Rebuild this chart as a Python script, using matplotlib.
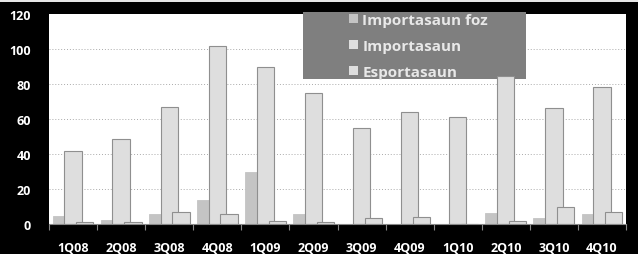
import matplotlib
matplotlib.use("Agg")
import matplotlib.pyplot as plt
import numpy as np
from matplotlib.patches import Rectangle

categories = ["1Q08", "2Q08", "3Q08", "4Q08", "1Q09", "2Q09", "3Q09", "4Q09", "1Q10", "2Q10", "3Q10", "4Q10"]
importasaun_foz = [4.7, 2.5, 6.0, 13.5, 30.0, 5.7, 0, 0, 0, 6.3, 3.4, 5.7]
importasaun = [41.9, 48.6, 67.0, 102.0, 90.0, 74.7, 54.9, 64.0, 61.0, 84.4, 66.3, 78.5]
esportasaun = [1.0, 1.0, 7.0, 5.7, 2.0, 1.0, 3.4, 4.2, 0, 1.5, 9.5, 6.7]
series_names = ["Importasaun foz", "Importasaun", "Esportasaun"]
yticks = [0, 20, 40, 60, 80, 100, 120]

plt.rcParams['font.family'] = ['Open Sans', 'DejaVu Sans']

fig = plt.figure(figsize=(6.38, 2.55), dpi=100, facecolor='black')
ax = fig.add_axes([49/638, 1-225/255, 577/638, 210/255])
ax.set_facecolor('white')

x = np.arange(len(categories))
w = 0.36
off = 0.245
c_foz = '#c4c4c4'
c_imp = '#dedede'
edge = '#8f8f8f'
b1 = ax.bar(x - off, importasaun_foz, w, color=c_foz, edgecolor=c_foz, linewidth=0.6, zorder=2, label=series_names[0])
b2 = ax.bar(x, importasaun, w, color=c_imp, edgecolor=edge, linewidth=0.8, zorder=3, label=series_names[1])
b3 = ax.bar(x + off, esportasaun, w, color=c_imp, edgecolor=edge, linewidth=0.8, zorder=4, label=series_names[2])

ax.set_xlim(-0.5, len(categories) - 0.5)
ax.set_ylim(0, 120)
ax.set_yticks(yticks)
ax.set_yticklabels([str(t) for t in yticks], color='white', fontsize=9, fontweight='bold')
ax.tick_params(axis='y', length=0, pad=13)
ax.set_xticks(x)
ax.set_xticklabels(categories, color='white', fontsize=9, fontweight='bold')
ax.tick_params(axis='x', which='major', length=0, pad=12)
ax.set_xticks(np.arange(-0.5, len(categories) + 0.5, 1), minor=True)
ax.tick_params(axis='x', which='minor', length=4, color='#888888', width=0.8)

for t in yticks[1:-1]:
    ax.axhline(t, color='#aaaaaa', linestyle=(0, (1, 2)), linewidth=0.7, zorder=0.5)

for s in ['top', 'right', 'left']:
    ax.spines[s].set_visible(False)
ax.spines['bottom'].set_color('#888888')
ax.spines['bottom'].set_linewidth(0.8)
ax.spines['bottom'].set_zorder(5)

# legend box
ax.add_patch(Rectangle(((303-49)/577, (225-80)/210), (526-303)/577, 67/210,
                       transform=ax.transAxes, facecolor='#7f7f7f', edgecolor='none',
                       zorder=1.5, clip_on=False))
leg = fig.legend(handles=[b1, b2, b3], labels=series_names, loc='upper left',
                 bbox_to_anchor=(337/638, 1-2/255), frameon=False,
                 prop={'size': 11, 'weight': 'bold'},
                 handlelength=0.55, handleheight=0.55, handletextpad=0.3,
                 labelspacing=0.78, borderpad=0.3)
for txt in leg.get_texts():
    txt.set_color('#e8e8e8')
for h in leg.legend_handles:
    h.set_edgecolor('none')

# top light border
fig.add_artist(Rectangle((0, 1-3/255), 1, 3/255, transform=fig.transFigure,
                         facecolor='#e6e6e6', edgecolor='none'))

fig.savefig('out.png', dpi=100, facecolor='black')
